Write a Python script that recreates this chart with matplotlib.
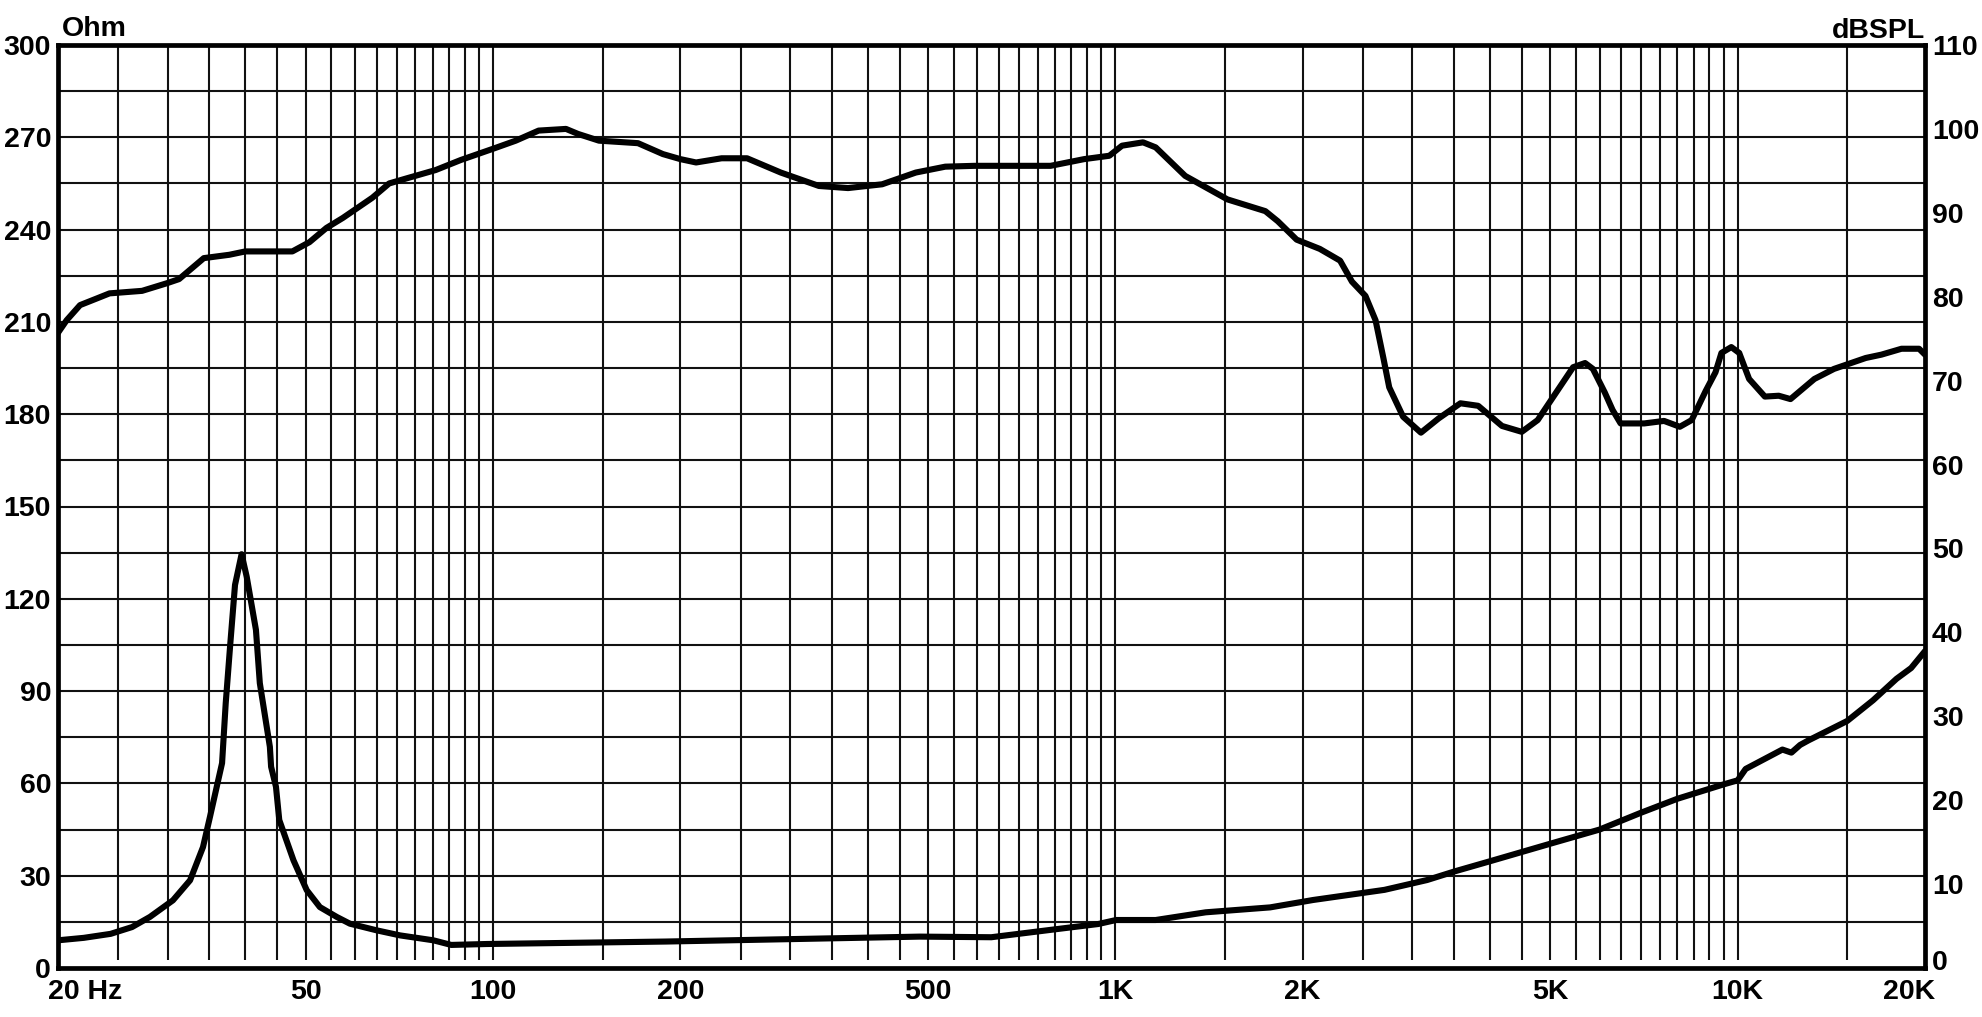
import matplotlib
matplotlib.use('Agg')
import matplotlib.pyplot as plt
import matplotlib.transforms as mtransforms
import numpy as np

# impedance curve (Ohm, left axis)
imp_freq = [20, 22, 24.3, 26.3, 28.1, 30.6, 32.6, 34.2, 35.1, 36.7, 37.2, 37.8, 38.5, 39.45,
            40.2, 41.6, 42.2, 43.8, 44.0, 44.8, 45.35, 47.8, 50.2, 52.7, 56.1, 58.9,
            65.0, 70.9, 80.2, 85.7, 97.8, 189.5, 485, 632, 802, 939, 1003, 1161,
            1397, 1773, 2078, 2707, 3170, 3509, 4000, 5000, 6000, 7000, 8000, 9500,
            10000, 10300, 11800, 12200, 12600, 13000, 15000, 16500, 18000, 19000, 20000]
imp_ohm = [9.0, 9.8, 11.1, 13.3, 16.6, 22.0, 28.5, 39.3, 49.2, 66.6, 86.1, 104.4, 124.5, 134.5,
           127.2, 109.9, 92.6, 71.9, 65.4, 58.9, 48.1, 35.0, 25.3, 19.8, 16.6, 14.4,
           12.25, 10.6, 9.0, 7.5, 7.8, 8.6, 10.2, 10.0, 12.6, 14.3, 15.6, 15.6,
           18.1, 19.7, 22.1, 25.4, 28.6, 31.4, 34.7, 40.4, 45.0, 50.5, 55.0, 59.7,
           61.0, 64.7, 71.0, 70.0, 72.5, 74.0, 80.3, 87.0, 94.0, 97.5, 103.0]

# SPL curve (dBSPL, right axis)
spl_freq = [20, 20.65, 21.7, 23.1, 24.2, 27.3, 29.9, 31.3, 34.3, 37.7, 40, 47.6, 50.7,
            54, 57.4, 64, 68.1, 72.6, 80.9, 88.8, 100.6, 108.8, 118.4, 131, 137, 148,
            171, 187.5, 200, 212, 233, 256, 290, 334, 372, 422, 478, 533, 594, 787,
            891, 978, 1025, 1108, 1161, 1295, 1514, 1742, 1824, 1956, 2131, 2297,
            2400, 2523, 2619, 2696, 2755, 2900, 3098, 3308, 3585, 3829, 4181, 4499,
            4772, 5058, 5440, 5686, 5853, 6115, 6296, 6485, 7078, 7616, 8073, 8436,
            8881, 9213, 9417, 9768, 10058, 10433, 11059, 11642, 12160, 13283, 14285,
            16063, 17026, 18333, 19566, 20000]
spl_db = [75.7, 77.2, 79.0, 79.8, 80.4, 80.7, 81.6, 82.1, 84.6, 85.0, 85.4, 85.4, 86.5,
          88.2, 89.4, 91.8, 93.5, 94.1, 95.1, 96.3, 97.7, 98.6, 99.8, 100.0, 99.4, 98.6,
          98.3, 97.0, 96.4, 96.0, 96.5, 96.5, 94.8, 93.2, 92.95, 93.4, 94.8, 95.5, 95.6, 95.6,
          96.4, 96.8, 98.0, 98.4, 97.8, 94.4, 91.6, 90.2, 89.0, 86.8, 85.7, 84.3,
          81.8, 80.1, 77.2, 72.7, 69.2, 65.7, 63.8, 65.5, 67.3, 67.0, 64.6, 63.9,
          65.3, 68.1, 71.6, 72.1, 71.4, 68.6, 66.5, 64.9, 64.9, 65.2, 64.5, 65.3,
          68.75, 71.0, 73.3, 74.0, 73.3, 70.2, 68.1, 68.2, 67.8, 70.2, 71.4,
          72.7, 73.1, 73.8, 73.8, 73.1]

x_ticks = [20, 50, 100, 200, 500, 1000, 2000, 5000, 10000, 20000]
x_labels = ['20 Hz', '50', '100', '200', '500', '1K', '2K', '5K', '10K', '20K']
ohm_ticks = list(range(0, 301, 30))
db_ticks = list(range(0, 111, 10))

# grid frequencies
grid_freq = (list(range(25, 101, 5)) + [150] + list(range(200, 1001, 50)) + [1500]
             + list(range(2000, 10001, 500)) + [15000])
grid_ohm = list(range(15, 300, 15))

plt.rcParams['font.family'] = ['Liberation Sans', 'DejaVu Sans']
plt.rcParams['font.weight'] = 'bold'
fs = 20.5

W, H = 1983, 1017
fig = plt.figure(figsize=(W / 100, H / 100), dpi=100)
L, R, T, B = 58, 1925, 45, 968
ax = fig.add_axes([L / W, 1 - B / H, (R - L) / W, (B - T) / H])

ax.set_xscale('log')
ax.set_xlim(20, 20000)
ax.set_ylim(0, 300)

ax.vlines(grid_freq, 8 / (B - T), 1, transform=ax.get_xaxis_transform(),
          color='#111111', lw=1.5, zorder=1)
ax.hlines(grid_ohm, 0, 1, transform=ax.get_yaxis_transform(),
          color='#111111', lw=1.5, zorder=1)

ax.plot(imp_freq, imp_ohm, color='black', lw=4.4, solid_joinstyle='round',
        solid_capstyle='round', zorder=3)

for s in ax.spines.values():
    s.set_linewidth(3.4)
    s.set_zorder(5)

ax.set_xticks(x_ticks)
ax.set_xticklabels(x_labels, fontsize=fs, fontweight='bold')
ax.xaxis.set_minor_locator(matplotlib.ticker.NullLocator())
ax.set_yticks(ohm_ticks)
ax.set_yticklabels([str(v) for v in ohm_ticks], fontsize=fs, fontweight='bold')
ax.tick_params(axis='both', length=0)
ax.tick_params(axis='x', pad=8)
ax.tick_params(axis='y', pad=5)

# end labels sit inside the figure like the reference
labs = ax.get_xticklabels()
labs[0].set_ha('left')
labs[0].set_transform(labs[0].get_transform() +
                      mtransforms.ScaledTranslation(-10 / 100, 0, fig.dpi_scale_trans))
labs[-1].set_ha('right')
labs[-1].set_transform(labs[-1].get_transform() +
                       mtransforms.ScaledTranslation(10 / 100, 0, fig.dpi_scale_trans))

ax2 = ax.twinx()
ax2.set_ylim(0, 110)
ax2.set_yticks(db_ticks)
ax2.set_yticklabels([str(v) for v in db_ticks], fontsize=fs, fontweight='bold')
ax2.tick_params(axis='y', length=0, pad=5)
for s in ax2.spines.values():
    s.set_visible(False)
ax2.plot(spl_freq, spl_db, color='black', lw=4.4, solid_joinstyle='round',
         solid_capstyle='round', zorder=3)

# lift the right-hand "0" a little off the bottom row of labels
r0 = ax2.get_yticklabels()[0]
r0.set_va('bottom')
r0.set_transform(r0.get_transform() +
                 mtransforms.ScaledTranslation(0, -8 / 100, fig.dpi_scale_trans))

fig.text(62 / W, 1 - 36 / H, 'Ohm', fontsize=fs, fontweight='bold', ha='left', va='baseline')
fig.text(R / W, 1 - 38 / H, 'dBSPL', fontsize=fs, fontweight='bold', ha='right', va='baseline')

fig.savefig('out.png', dpi=100, facecolor='white')
